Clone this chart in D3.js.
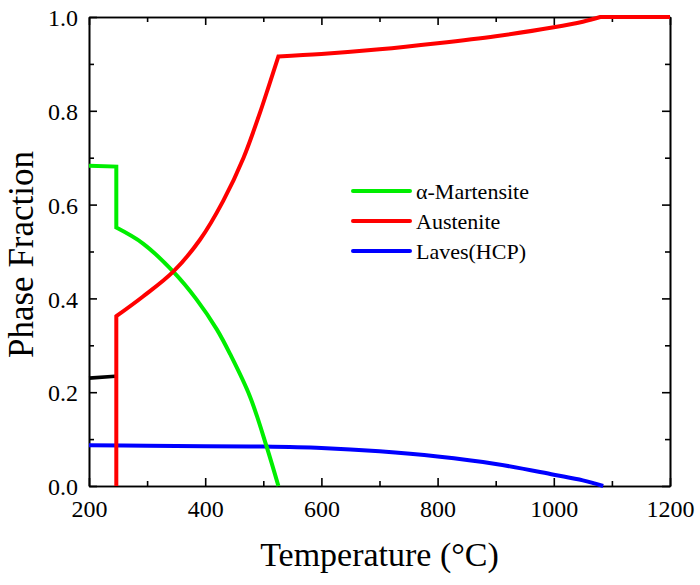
<!DOCTYPE html>
<html><head><meta charset="utf-8">
<script src="https://cdn.jsdelivr.net/npm/d3@7"></script>
<style>html,body{margin:0;padding:0;background:#fff;}svg{display:block;}
text{font-family:'Liberation Serif','Times New Roman',serif;}</style>
</head><body>
<svg id="chart" width="700" height="585"></svg>
<script>
// ---- data ----
const xDomain = [200, 1200];
const yDomain = [0, 1];
const xTickValues = [200, 400, 600, 800, 1000, 1200];
const xMinorTicks = [300, 500, 700, 900, 1100];
const yTickValues = [0, 0.2, 0.4, 0.6, 0.8, 1.0];
const yMinorTicks = [0.1, 0.3, 0.5, 0.7, 0.9];
const xLabel = "Temperature (°C)";
const yLabel = "Phase Fraction";

// α-Martensite (segments joined with sharp corners)
const martensiteLow = [[200, 0.683], [247, 0.681]];
const martensiteDrop = [[247, 0.681], [247, 0.551]];
const martensiteFall = [[247, 0.551], [293, 0.517], [345, 0.457], [385, 0.398], [420, 0.334], [443, 0.281], [477, 0.191], [506, 0.083], [526, 0.0]];
// Austenite
const austeniteJump = [[247, 0.0], [247, 0.362]];
const austeniteRise = [[247, 0.362], [293, 0.404], [345, 0.457], [391, 0.525], [431, 0.608], [466, 0.700], [494, 0.795], [510, 0.855], [526, 0.916]];
const austeniteHigh = [[526, 0.916], [600, 0.921], [700, 0.931], [800, 0.944], [900, 0.959], [1000, 0.978], [1050, 0.990], [1080, 1.0]];
const austeniteFull = [[1080, 1.0], [1200, 1.0]];
// Laves(HCP)
const laves = [[200, 0.087], [300, 0.086], [400, 0.085], [500, 0.084], [600, 0.081], [700, 0.074], [800, 0.063], [900, 0.047], [1000, 0.024], [1050, 0.012], [1085, 0.0]];
// unlabeled black phase
const blackPhase = [[200, 0.230], [245, 0.234]];

const seriesNames = ["α-Martensite", "Austenite", "Laves(HCP)"];
const seriesColors = ["#00ee00", "#ff0000", "#0000ff"];

// ---- layout ----
const L = 89, R = 670, T = 17, B = 486;
const svg = d3.select("#chart");
const x = d3.scaleLinear().domain(xDomain).range([L, R]);
const y = d3.scaleLinear().domain(yDomain).range([B, T]);
const font = "'Liberation Serif','Times New Roman',serif";

// axes with inward ticks
function ax(gen, tx, vals, len, fmt) {
  const g = svg.append("g").attr("transform", tx)
    .call(gen.tickValues(vals).tickSizeInner(-len).tickSizeOuter(0).tickPadding(11 + len)
      .tickFormat(fmt || (() => "")));
  g.attr("font-family", font).attr("font-size", 24);
  g.select(".domain").attr("stroke", "#000").attr("stroke-width", 1.6);
  g.selectAll(".tick line").attr("stroke", "#000").attr("stroke-width", 1.6);
  g.selectAll("text").style("font-family", font).style("font-size", "24px").attr("fill", "#000");
  return g;
}
const bx = ax(d3.axisBottom(x), `translate(0,${B})`, xTickValues, 8, d3.format("d"));
bx.selectAll("text").attr("dy", 0).attr("y", 31);
ax(d3.axisBottom(x), `translate(0,${B})`, xMinorTicks, 5);
const ly = ax(d3.axisLeft(y), `translate(${L},0)`, yTickValues, 8, d3.format(".1f"));
ly.selectAll("text").attr("x", -11).attr("dy", "0.36em");
ax(d3.axisLeft(y), `translate(${L},0)`, yMinorTicks, 5);
ax(d3.axisTop(x), `translate(0,${T})`, xTickValues, 8);
ax(d3.axisTop(x), `translate(0,${T})`, xMinorTicks, 5);
ax(d3.axisRight(y), `translate(${R},0)`, yTickValues, 8);
ax(d3.axisRight(y), `translate(${R},0)`, yMinorTicks, 5);

// titles
svg.append("text").attr("x", (L + R) / 2).attr("y", 566)
  .attr("text-anchor", "middle").style("font-family", font).style("font-size", "34px")
  .text(xLabel);
svg.append("text").attr("transform", `translate(33,${(T + B) / 2 + 3}) rotate(-90)`)
  .attr("text-anchor", "middle").style("font-family", font).style("font-size", "35px")
  .text(yLabel);

// lines
const line = d3.line().x(d => x(d[0])).y(d => y(d[1])).curve(d3.curveCatmullRom.alpha(0.5));
const lineLin = d3.line().x(d => x(d[0])).y(d => y(d[1]));
function joined(segs) {
  return segs.map((s, i) => {
    const p = (s.length > 2 && s[0][0] !== s[1][0]) ? line(s) : lineLin(s);
    return i === 0 ? p : "L" + p.slice(1);
  }).join("");
}
const drawn = [
  { segs: [blackPhase], color: "#000", w: 3.6 },
  { segs: [laves], color: seriesColors[2], w: 4 },
  { segs: [martensiteLow, martensiteDrop, martensiteFall], color: seriesColors[0], w: 4 },
  { segs: [austeniteJump, austeniteRise, austeniteHigh, austeniteFull], color: seriesColors[1], w: 4 }
];
drawn.forEach(s => {
  svg.append("path").attr("d", joined(s.segs)).attr("fill", "none")
    .attr("stroke", s.color).attr("stroke-width", s.w)
    .attr("stroke-linejoin", "miter").attr("stroke-linecap", "butt");
});

// legend
const lg = svg.append("g");
seriesNames.forEach((n, i) => {
  const yy = 191 + i * 30;
  lg.append("line").attr("x1", 353).attr("x2", 410).attr("y1", yy).attr("y2", yy)
    .attr("stroke", seriesColors[i]).attr("stroke-width", 4).attr("stroke-linecap", "round");
  lg.append("text").attr("x", 416).attr("y", yy).attr("dy", "0.35em")
    .style("font-family", font).style("font-size", "22px").text(n);
});
</script>
</body></html>
